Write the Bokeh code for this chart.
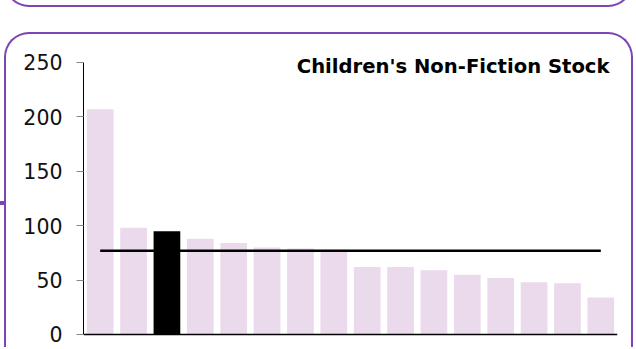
from bokeh.plotting import figure
from bokeh.models import FactorRange, Range1d, Label, FixedTicker, InlineStyleSheet
from bokeh.embed import file_html
from bokeh.resources import INLINE

# --- data ---
libraries = ["L01", "L02", "L03", "L04", "L05", "L06", "L07", "L08",
             "L09", "L10", "L11", "L12", "L13", "L14", "L15", "L16"]
stock = [207, 98, 95, 88, 84, 80, 79, 78, 62, 62, 59, 55, 52, 48, 47, 34]
highlight_index = 2
average = 77
y_ticks = [0, 50, 100, 150, 200, 250]
title_text = "Children's Non-Fiction Stock"

PINK = "#ebd9ec"
PURPLE = "#7e44b5"

colors = ["black" if i == highlight_index else PINK for i in range(len(libraries))]

# frame: x 83..617, y 40..336 (250 at y=62, 0 at y=334)
p = figure(width=636, height=347, output_backend="svg", toolbar_location=None,
           x_range=FactorRange(*libraries, range_padding=0), y_range=Range1d(-1.84, 270.2),
           min_border_left=83, min_border_right=19, min_border_top=40, min_border_bottom=11,
           background_fill_color=None, border_fill_color=None)
p.outline_line_color = None
p.grid.visible = False
p.xaxis.visible = False

p.vbar(x=libraries, top=stock, width=0.8, fill_color=colors, line_color=None)
p.line(x=[libraries[0], libraries[-1]], y=[average, average], line_color="black", line_width=2.5)
# baseline (x axis line) across the full category span
p.line(x=[(libraries[0], -0.5), (libraries[-1], 0.5)], y=[0, 0], line_color="black", line_width=1.3)

ya = p.yaxis[0]
ya.ticker = FixedTicker(ticks=y_ticks)
ya.bounds = (0, 250)
ya.minor_tick_line_color = None
ya.major_tick_out = 7
ya.major_tick_in = 0
ya.major_tick_line_color = "#888888"
ya.axis_line_color = "black"
ya.major_label_text_font = "DejaVu Sans"
ya.major_label_text_font_size = "20.5px"
ya.major_label_text_color = "#111111"
ya.major_label_standoff = 14

p.add_layout(Label(x=15.76, y=246.3, text=title_text, text_align="right",
                   text_baseline="alphabetic", text_font="DejaVu Sans",
                   text_font_style="bold", text_font_size="19.6px", text_color="black"))

css = f"""
:host {{ position: relative; overflow: visible; }}
:host::before {{
  content: ""; position: absolute; box-sizing: border-box; pointer-events: none; z-index: 20;
  left: 4px; top: 31.5px; width: 629px; height: 315px;
  border: 2px solid {PURPLE}; border-bottom: none; border-radius: 25px 25px 0 0;
}}
:host::after {{
  content: ""; position: absolute; box-sizing: border-box; pointer-events: none; z-index: 20;
  left: 4px; top: -60px; width: 629px; height: 66.5px;
  border: 2px solid {PURPLE}; border-top: none; border-radius: 0 0 25px 25px;
}}
.bk-Canvas::after {{
  content: ""; position: absolute; z-index: 20; pointer-events: none;
  left: 0px; top: 201px; width: 5px; height: 4px; background: {PURPLE};
}}
"""
p.stylesheets = [InlineStyleSheet(css=css)]

open("out.html", "w").write(file_html(p, INLINE))
